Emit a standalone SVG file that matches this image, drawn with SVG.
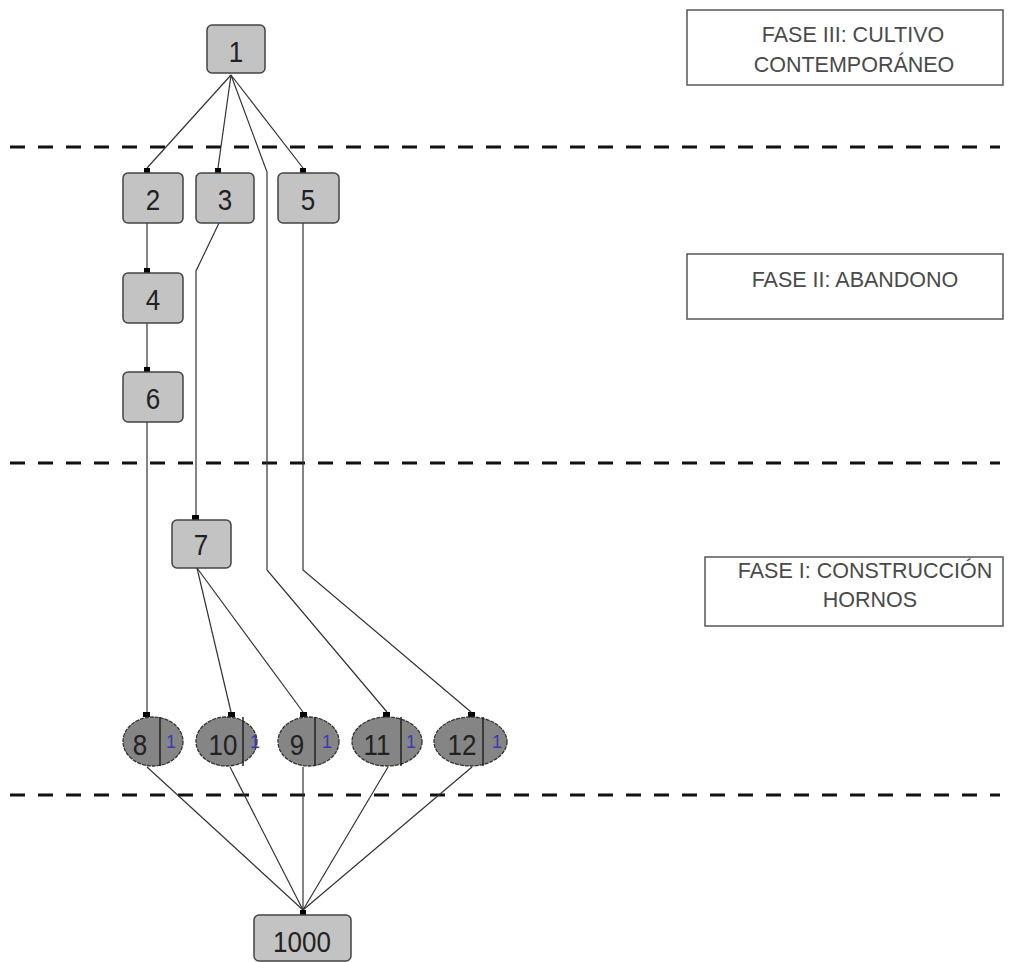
<svg xmlns="http://www.w3.org/2000/svg" width="1015" height="962" viewBox="0 0 1015 962">
<style>
.bg{fill:#ffffff}
.sep{stroke:#111;stroke-width:3;stroke-dasharray:15 13;fill:none}
.phase rect{fill:#fff;stroke:#555;stroke-width:1.5}
.phase text{font-family:"Liberation Sans",Arial,sans-serif;font-size:21.5px;fill:#4a4a4a;text-anchor:middle}
.box{fill:#c3c3c3;stroke:#444;stroke-width:1.5}
.ell{fill:#858585;stroke:#333;stroke-width:1.3;stroke-dasharray:4 1}
.div{stroke:#222;stroke-width:1.5}
.num{font-family:"Liberation Sans",Arial,sans-serif;font-size:26px;fill:#222;text-anchor:middle}
.sub{font-family:"Liberation Sans",Arial,sans-serif;font-size:18px;fill:#3a3ab0;text-anchor:middle}
.edge{stroke:#333;stroke-width:1.2;fill:none}
.mk{fill:#000}
</style>
<rect class="bg" x="0" y="0" width="1015" height="962"/>
<g id="separators">
<line class="sep" x1="10" y1="147" x2="1000" y2="147"/>
<line class="sep" x1="10" y1="463" x2="1000" y2="463"/>
<line class="sep" x1="10" y1="795" x2="1000" y2="795"/>
</g>
<g id="phase3" class="phase">
<rect x="687" y="10" width="316" height="75"/>
<text x="853" y="42">FASE III: CULTIVO</text>
<text x="854" y="72">CONTEMPORÁNEO</text>
</g>
<g id="phase2" class="phase">
<rect x="687" y="254" width="316" height="65"/>
<text x="855" y="287">FASE II: ABANDONO</text>
</g>
<g id="phase1" class="phase">
<rect x="705" y="557" width="298" height="69"/>
<text x="865" y="578">FASE I: CONSTRUCCIÓN</text>
<text x="870" y="607">HORNOS</text>
</g>
<g id="connectors">
<path class="edge" d="M231,75 L147,168"/>
<path class="edge" d="M231,75 L218,168"/>
<path class="edge" d="M231,75 L267,172 L267,570 L387,712"/>
<path class="edge" d="M231,75 L303,168"/>
<path class="edge" d="M147,223 L147,268"/>
<path class="edge" d="M147,323 L147,367"/>
<path class="edge" d="M147,422 L147,712"/>
<path class="edge" d="M219,223 L196,271 L196,515"/>
<path class="edge" d="M303,223 L303,570 L471,712"/>
<path class="edge" d="M197,568 L231,712"/>
<path class="edge" d="M197,568 L303,712"/>
<path class="edge" d="M147,767 L303,910"/>
<path class="edge" d="M230,767 L303,910"/>
<path class="edge" d="M303,767 L303,910"/>
<path class="edge" d="M388,767 L303,910"/>
<path class="edge" d="M472,767 L303,910"/>
<rect class="mk" x="144" y="168" width="6" height="5"/>
<rect class="mk" x="215" y="168" width="6" height="5"/>
<rect class="mk" x="300" y="168" width="6" height="5"/>
<rect class="mk" x="144" y="268" width="6" height="5"/>
<rect class="mk" x="144" y="367" width="6" height="5"/>
<rect class="mk" x="192" y="515" width="7" height="5"/>
<rect class="mk" x="143" y="712" width="7" height="5"/>
<rect class="mk" x="228" y="712" width="7" height="5"/>
<rect class="mk" x="300" y="712" width="7" height="5"/>
<rect class="mk" x="383" y="712" width="7" height="5"/>
<rect class="mk" x="468" y="712" width="7" height="5"/>
<rect class="mk" x="300" y="910" width="6" height="5"/>
</g>
<g id="n1"><rect class="box" x="207" y="25" width="58" height="48" rx="5"/><text class="num" transform="translate(236,62) scale(1,1.15)">1</text></g>
<g id="n2"><rect class="box" x="123" y="173" width="60" height="50" rx="5"/><text class="num" transform="translate(153,210) scale(1,1.15)">2</text></g>
<g id="n3"><rect class="box" x="196" y="173" width="58" height="50" rx="5"/><text class="num" transform="translate(225,210) scale(1,1.15)">3</text></g>
<g id="n5"><rect class="box" x="278" y="173" width="61" height="50" rx="5"/><text class="num" transform="translate(308,210) scale(1,1.15)">5</text></g>
<g id="n4"><rect class="box" x="123" y="273" width="60" height="50" rx="5"/><text class="num" transform="translate(153,310) scale(1,1.15)">4</text></g>
<g id="n6"><rect class="box" x="123" y="372" width="60" height="50" rx="5"/><text class="num" transform="translate(153,409) scale(1,1.15)">6</text></g>
<g id="n7"><rect class="box" x="172" y="520" width="59" height="48" rx="5"/><text class="num" transform="translate(201,555) scale(1,1.15)">7</text></g>
<g id="n8"><ellipse class="ell" cx="153" cy="741.5" rx="30" ry="24.5"/><line class="div" x1="160" y1="717" x2="160" y2="766"/><text class="num" transform="translate(140,755) scale(1,1.15)">8</text><text class="sub" x="171" y="748">1</text></g>
<g id="n10"><ellipse class="ell" cx="226.5" cy="741.5" rx="30.5" ry="24.5"/><line class="div" x1="243" y1="717" x2="243" y2="766"/><text class="num" transform="translate(223,755) scale(1,1.15)">10</text><text class="sub" x="255" y="748">1</text></g>
<g id="n9"><ellipse class="ell" cx="308.5" cy="741.5" rx="30.5" ry="24.5"/><line class="div" x1="315" y1="717" x2="315" y2="766"/><text class="num" transform="translate(297,755) scale(1,1.15)">9</text><text class="sub" x="327" y="748">1</text></g>
<g id="n11"><ellipse class="ell" cx="387" cy="741.5" rx="35" ry="24.5"/><line class="div" x1="401" y1="717" x2="401" y2="766"/><text class="num" transform="translate(377,755) scale(1,1.15)">11</text><text class="sub" x="411" y="748">1</text></g>
<g id="n12"><ellipse class="ell" cx="470.5" cy="741.5" rx="36.5" ry="24.5"/><line class="div" x1="483" y1="717" x2="483" y2="766"/><text class="num" transform="translate(462,755) scale(1,1.15)">12</text><text class="sub" x="497" y="748">1</text></g>
<g id="n1000"><rect class="box" x="254" y="915" width="97" height="46" rx="5"/><text class="num" transform="translate(302,952) scale(1,1.15)">1000</text></g>
</svg>
